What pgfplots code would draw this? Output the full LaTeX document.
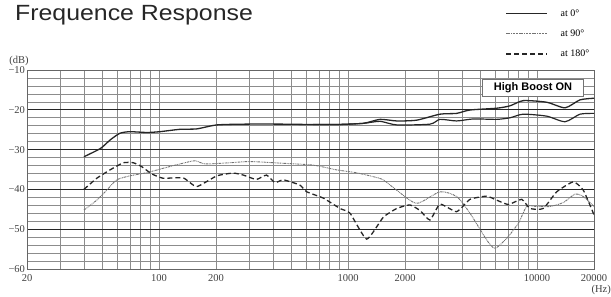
\documentclass[border=0pt]{standalone}
\usepackage{fontspec}
\setmainfont{Liberation Serif}
\newfontfamily\titlefont[FakeStretch=1.13]{Liberation Sans}
\newfontfamily\boxfont{Liberation Sans}
\usepackage{pgfplots}
\pgfplotsset{compat=1.18}
\begin{document}
\begin{tikzpicture}
\begin{axis}[name=ax,
  scale only axis, width=567pt, height=199pt,
  xmode=log, xmin=20, xmax=20000, ymin=-60, ymax=-10,
  xtick={20,100,200,1000,2000,10000,20000},
  xticklabels={20,100,200,1000,2000,10000,20000},
  minor xtick={30,40,50,60,70,80,90,300,400,500,600,700,800,900,3000,4000,5000,6000,7000,8000,9000},
  ytick={-60,-50,-40,-30,-20,-10},
  yticklabels={−60,−50,−40,−30,−20,−10},
  minor ytick={-58,-56,-54,-52,-48,-46,-44,-42,-38,-36,-34,-32,-28,-26,-24,-22,-18,-16,-14,-12},
  grid=both,
  major x grid style={black!45, line width=0.65pt},
  minor x grid style={black!45, line width=0.65pt},
  major y grid style={black!85, line width=0.7pt},
  minor y grid style={black!45, line width=0.6pt},
  tick style={draw=none},
  axis line style={black!60, line width=0.7pt},
  tick label style={font=\fontsize{10.5}{11}\selectfont, text=black!75},
  xticklabel style={yshift=-1.5pt},
  yticklabel style={xshift=1.5pt},
  legend style={at={(axis description cs:0.838,1.325)}, anchor=north west, draw=none, fill=none,
    font=\fontsize{10}{11}\selectfont, row sep=8pt, legend cell align=left},
  legend image code/.code={\draw[#1] (0pt,0pt) -- (41pt,0pt); \path (52pt,0pt);},
]
% at 0 deg (upper)
\addplot[black!85, line width=1.3pt, smooth, tension=0.4] coordinates {
(40,-31.8) (49,-29.7) (55,-27.6) (62,-25.9) (70,-25.5) (86,-25.7) (101,-25.5) (129,-24.9) (158,-24.8) (202,-23.8) (290,-23.6) (437,-23.6) (652,-23.7) (870,-23.7) (1204,-23.4) (1476,-22.4) (1808,-22.8) (2307,-22.6) (3062,-21.1) (3750,-20.9) (4416,-20.05) (6110,-19.6) (7190,-19.0) (8450,-17.7) (11240,-18.1) (14060,-19.5) (16860,-17.5) (20000,-17.1)
};
\addlegendentry{at 0°}
% at 90 deg
\addplot[black!55, line width=0.9pt, smooth, tension=0.4, dash pattern=on 2.5pt off 0.8pt on 0.8pt off 0.8pt on 0.8pt off 0.8pt] coordinates {
(40,-45.2) (46.8,-42.7) (52.8,-40.2) (59.7,-37.6) (70,-36.6) (86,-35.8) (105,-34.7) (129,-33.6) (155,-32.8) (175,-33.6) (237,-33.3) (303,-33.0) (437,-33.4) (654,-33.9) (870,-35.1) (1100,-35.8) (1359,-36.8) (1535,-37.6) (1808,-40.2) (2307,-43.5) (3062,-40.6) (3750,-41.8) (4416,-46.0) (5410,-52.7) (5990,-54.8) (6900,-52.3) (7960,-48.5) (8810,-44.3) (9940,-44.3) (11700,-44.3) (13760,-43.3) (15860,-41.2) (17560,-41.8) (20000,-44.3)
};
\addlegendentry{at 90°}
% at 180 deg
\addplot[black!85, line width=1.3pt, smooth, tension=0.3, dash pattern=on 5pt off 3pt] coordinates {
(40,-40.0) (46.8,-37.2) (55,-35.1) (64.7,-33.3) (73,-33.3) (81,-34.3) (91.4,-36.1) (105,-37.2) (134,-37.1) (158,-39.3) (202,-36.6) (246,-35.9) (279,-36.4) (327,-37.5) (370,-36.4) (410,-38.3) (454,-37.6) (555,-38.9) (604,-40.6) (740,-42.2) (906,-44.8) (1024,-46.0) (1254,-52.5) (1535,-47.0) (1808,-44.8) (2120,-43.9) (2400,-45.3) (2712,-47.7) (3062,-43.7) (3750,-45.6) (4416,-42.5) (5410,-41.7) (6110,-42.7) (7050,-43.8) (8290,-42.5) (9170,-44.8) (10780,-44.8) (12700,-40.6) (15540,-38.1) (17560,-40.2) (20000,-46.4)
};
\addlegendentry{at 180°}
% at 0 deg (lower variant)
\addplot[black!85, line width=1.2pt, smooth, tension=0.4, forget plot] coordinates {
(652,-23.7) (870,-23.7) (1204,-23.4) (1476,-22.9) (1808,-23.8) (2712,-23.6) (3062,-22.4) (3750,-22.8) (4590,-22.3) (6110,-22.4) (7190,-22.0) (8450,-21.1) (11240,-21.6) (14060,-23.0) (16860,-21.1) (20000,-20.9)
};
\end{axis}
\node[anchor=base west, font=\titlefont\fontsize{22}{24}\selectfont, text=black!85, inner sep=0pt]
  at ([shift={(-12pt,49pt)}]ax.north west) {Frequence Response};
\node[font=\fontsize{10.5}{11}\selectfont, text=black!75, inner sep=0pt]
  at ([shift={(-8pt,9pt)}]ax.north west) {(dB)};
\node[font=\fontsize{10.5}{11}\selectfont, text=black!75, inner sep=0pt, anchor=east]
  at ([shift={(17pt,-21pt)}]ax.south east) {(Hz)};
\node[draw=black!55, fill=white, line width=0.7pt, font=\boxfont\bfseries\fontsize{11}{12}\selectfont,
  minimum width=101pt, minimum height=17pt, inner sep=0pt]
  at ([shift={(506pt,-17.5pt)}]ax.north west) {High Boost ON};
\pgfresetboundingbox
\path ([shift={(-27pt,-28pt)}]ax.south west) rectangle ([shift={(17pt,70pt)}]ax.north east);
\end{tikzpicture}
\end{document}
